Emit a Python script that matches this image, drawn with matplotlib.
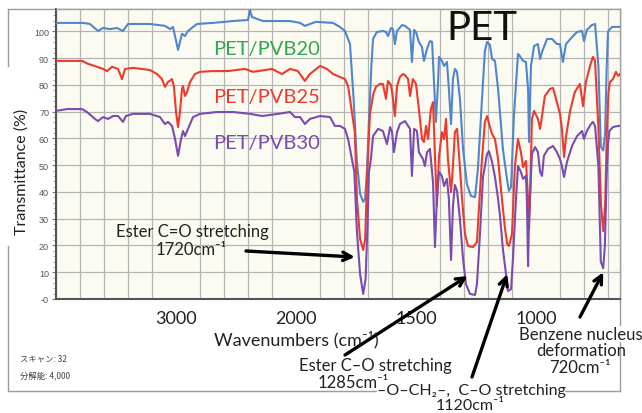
import numpy as np
import matplotlib
matplotlib.use("Agg")
import matplotlib.pyplot as plt
from matplotlib.lines import Line2D

plt.rcParams['font.family'] = ['Lato', 'DejaVu Sans']

# FT-IR spectra (wavenumber cm-1, transmittance %)
pvb20 = [(4000, 103.2), (3775, 103.2), (3717, 102.8), (3650, 100.2), (3608, 101.3), (3550, 100.9),
         (3492, 101.3), (3442, 100.2), (3400, 102.8), (3217, 102.8), (3092, 102.1), (3050, 100.9),
         (3025, 101.7), (2983, 93.1), (2967, 96.1), (2950, 99.1), (2925, 98.3), (2900, 100.2),
         (2825, 102.8), (2692, 103.2), (2525, 103.9), (2400, 104.3), (2383, 108.0), (2367, 105.4),
         (2325, 104.7), (2275, 103.9), (2108, 103.9), (2050, 103.9), (1983, 103.2), (1963, 102.1),
         (1917, 103.6), (1846, 103.2), (1817, 101.7), (1796, 100.2), (1775, 95.3), (1760, 74.8),
         (1747, 52.3), (1733, 39.3), (1720, 36.3), (1712, 37.4), (1704, 48.6), (1694, 71.0),
         (1686, 87.1), (1679, 97.2), (1663, 99.8), (1638, 100.2), (1625, 99.8), (1617, 98.3),
         (1604, 101.3), (1596, 100.9), (1588, 95.3), (1579, 100.2), (1558, 102.4), (1546, 102.1),
         (1525, 100.6), (1517, 88.6), (1508, 100.6), (1500, 99.8), (1488, 96.1), (1475, 94.2),
         (1467, 89.0), (1454, 93.5), (1442, 96.4), (1433, 96.1), (1425, 81.1), (1417, 66.2),
         (1408, 81.1), (1404, 90.5), (1392, 89.0), (1383, 87.1), (1371, 88.6), (1363, 78.5),
         (1354, 65.4), (1346, 82.2), (1338, 86.0), (1329, 84.9), (1317, 74.8), (1304, 56.1),
         (1288, 43.0), (1271, 38.5), (1254, 38.1), (1242, 48.6), (1225, 74.8), (1213, 92.7),
         (1204, 96.1), (1192, 95.0), (1183, 89.7), (1171, 89.0), (1158, 78.5), (1138, 56.1),
         (1121, 44.9), (1113, 40.4), (1104, 41.9), (1092, 68.4), (1075, 91.6), (1067, 90.8),
         (1054, 89.0), (1042, 88.6), (1033, 78.5), (1029, 58.7), (1021, 87.1), (1008, 94.6),
         (992, 95.3), (983, 89.7), (975, 92.3), (954, 97.2), (933, 97.2), (913, 95.3), (900, 95.3),
         (888, 88.6), (875, 95.3), (850, 97.9), (829, 99.8), (808, 100.2), (800, 96.4), (788, 100.6),
         (767, 102.4), (754, 102.8), (740, 87.1), (730, 57.0), (720, 55.5), (712, 62.0), (706, 85.0),
         (700, 100.0), (683, 101.7), (663, 101.7), (650, 101.7)]

pvb25 = [(4000, 89.0), (3783, 89.0), (3733, 87.9), (3658, 86.8), (3608, 86.0), (3575, 85.2),
         (3533, 86.8), (3483, 86.0), (3450, 82.2), (3425, 86.0), (3358, 86.4), (3217, 85.6),
         (3158, 84.1), (3117, 82.2), (3092, 79.3), (3067, 81.1), (3033, 82.2), (3017, 79.3),
         (3000, 69.9), (2983, 64.3), (2967, 69.9), (2950, 78.5), (2942, 79.6), (2925, 75.9),
         (2908, 77.4), (2883, 81.1), (2842, 84.1), (2800, 84.9), (2700, 85.2), (2567, 85.2),
         (2425, 86.0), (2358, 84.9), (2258, 85.6), (2200, 86.0), (2117, 84.1), (2050, 86.0),
         (1992, 85.2), (1963, 81.5), (1942, 84.1), (1900, 87.1), (1871, 86.0), (1846, 84.1),
         (1817, 83.0), (1796, 82.2), (1783, 79.6), (1775, 74.8), (1755, 62.4), (1746, 37.4),
         (1733, 22.4), (1720, 18.3), (1712, 22.4), (1702, 49.7), (1692, 69.2), (1678, 76.6),
         (1667, 79.3), (1650, 80.4), (1638, 80.4), (1625, 74.8), (1617, 81.5), (1604, 80.0),
         (1596, 74.8), (1588, 68.4), (1579, 79.6), (1567, 83.0), (1554, 84.1), (1546, 83.7),
         (1533, 82.2), (1525, 75.9), (1513, 82.2), (1500, 80.4), (1488, 71.0), (1475, 59.8),
         (1467, 58.7), (1458, 64.7), (1450, 59.8), (1438, 71.0), (1429, 73.6), (1421, 53.5),
         (1413, 34.8), (1404, 53.5), (1392, 62.4), (1383, 59.8), (1375, 67.3), (1367, 52.3),
         (1354, 40.0), (1346, 49.7), (1338, 62.4), (1329, 63.6), (1321, 54.2), (1308, 37.4),
         (1296, 24.3), (1283, 19.8), (1263, 19.4), (1246, 21.3), (1238, 33.6), (1225, 52.3),
         (1213, 66.2), (1204, 68.4), (1192, 64.3), (1183, 61.7), (1171, 59.8), (1158, 52.3),
         (1142, 37.4), (1129, 26.2), (1120, 20.5), (1113, 19.8), (1100, 24.3), (1088, 49.7),
         (1075, 59.8), (1063, 54.9), (1054, 49.3), (1042, 51.6), (1033, 37.4), (1029, 26.2),
         (1025, 37.4), (1017, 67.3), (1008, 70.3), (992, 67.3), (983, 63.6), (975, 68.4),
         (963, 75.9), (942, 78.5), (929, 78.9), (913, 73.6), (900, 69.2), (892, 63.6), (883, 53.1),
         (875, 60.6), (858, 70.3), (838, 77.4), (817, 80.4), (804, 72.1), (792, 81.1), (775, 87.1),
         (763, 90.5), (754, 89.0), (740, 63.6), (729, 35.0), (720, 25.4), (712, 35.0), (705, 62.0),
         (698, 77.4), (692, 81.1), (679, 82.2), (667, 84.9), (658, 83.4), (650, 84.1)]

pvb30 = [(4000, 70.3), (3908, 71.0), (3783, 71.0), (3742, 69.9), (3675, 67.3), (3650, 66.5),
         (3608, 68.0), (3567, 67.3), (3525, 68.4), (3483, 68.4), (3442, 66.2), (3417, 68.4),
         (3358, 69.2), (3217, 69.2), (3133, 68.0), (3092, 65.4), (3067, 66.2), (3033, 64.7),
         (3008, 59.8), (2983, 53.5), (2958, 59.8), (2942, 62.8), (2925, 60.9), (2900, 63.6),
         (2858, 68.0), (2800, 69.2), (2658, 69.9), (2525, 69.9), (2383, 69.2), (2283, 68.4),
         (2150, 69.2), (2050, 69.9), (2008, 68.0), (1983, 68.0), (1963, 65.4), (1942, 67.3),
         (1900, 68.4), (1858, 68.0), (1838, 64.7), (1817, 64.7), (1796, 63.6), (1783, 59.8),
         (1775, 56.1), (1757, 47.5), (1746, 25.0), (1733, 9.3), (1720, 1.9), (1710, 7.5),
         (1702, 28.0), (1696, 47.5), (1688, 52.3), (1679, 60.9), (1658, 63.6), (1638, 62.8),
         (1621, 57.9), (1608, 64.3), (1600, 62.4), (1592, 54.9), (1579, 62.4), (1567, 65.4),
         (1546, 66.5), (1533, 64.7), (1525, 63.6), (1517, 46.0), (1508, 63.6), (1496, 62.8),
         (1488, 54.9), (1471, 52.3), (1463, 49.7), (1454, 54.9), (1442, 56.1), (1429, 43.7),
         (1421, 19.4), (1413, 37.4), (1404, 47.5), (1392, 46.0), (1383, 42.2), (1371, 44.9),
         (1363, 37.4), (1354, 14.6), (1346, 34.8), (1338, 42.6), (1329, 40.4), (1317, 29.9),
         (1304, 15.0), (1292, 5.6), (1275, 1.9), (1254, 1.5), (1246, 5.6), (1233, 25.0),
         (1221, 45.6), (1204, 54.2), (1196, 55.3), (1183, 51.2), (1171, 45.6), (1158, 37.4),
         (1150, 31.0), (1138, 18.7), (1125, 9.3), (1117, 3.0), (1104, 3.7), (1096, 15.0),
         (1083, 38.1), (1075, 49.7), (1063, 47.5), (1054, 44.9), (1042, 46.0), (1038, 37.4),
         (1033, 12.3), (1029, 29.9), (1017, 54.2), (1004, 56.8), (992, 54.9), (983, 47.5),
         (975, 46.0), (967, 53.5), (950, 56.1), (929, 57.2), (913, 54.9), (900, 52.3), (892, 49.7),
         (883, 45.6), (871, 51.2), (850, 57.2), (829, 60.9), (808, 62.8), (800, 59.8), (788, 62.8),
         (771, 65.4), (763, 66.2), (754, 64.7), (740, 49.7), (730, 14.0), (720, 11.5), (713, 20.0),
         (706, 45.0), (700, 58.0), (694, 62.8), (679, 64.3), (658, 64.7), (650, 64.7)]

series_names = ["PET/PVB20", "PET/PVB25", "PET/PVB30"]
line_colors = ["#4f86cc", "#ee3a2e", "#7b4caf"]
label_colors = ["#2fa84f", "#ee3a2e", "#7b4caf"]

xtick_values = [3000, 2000, 1500, 1000]
ytick_values = [0, 10, 20, 30, 40, 50, 60, 70, 80, 90, 100]
ytick_labels = ["-0", "10", "20", "30", "40", "50", "60", "70", "80", "90", "100"]

# band assignments: arrow tip (wavenumber, transmittance)
band_tips = [(1755, 15.7), (1285, 8.6), (1120, 9.3), (720, 10.0)]
CM = "cm\u207b\u00b9"


# wavenumber axis: below 2000 cm-1 is drawn at twice the scale
def fwd(w):
    w = np.asarray(w, dtype=float)
    return np.where(w > 2000, 2000 + (w - 2000) / 2, w)


def inv(u):
    u = np.asarray(u, dtype=float)
    return np.where(u > 2000, 2000 + (u - 2000) * 2, u)


W, H = 642, 414
fig = plt.figure(figsize=(W / 100, H / 100), dpi=100)


def fx(px):
    return px / W


def fy(py):
    return 1 - py / H


# outer frame of the printout (left side broken by the axis title)
frame_kw = dict(transform=fig.transFigure, color="#9c9c9c", lw=1.0, zorder=0)
for xs, ys in [([8, 620], [10, 10]), ([620, 620], [10, 392]), ([8, 620], [392, 392]),
               ([8, 8], [10, 67]), ([8, 8], [247, 392])]:
    fig.add_artist(Line2D([fx(v) for v in xs], [fy(v) for v in ys], **frame_kw))

ax = fig.add_axes([fx(56), fy(300), fx(620) - fx(56), fy(10) - fy(300)])
ax.set_facecolor("#fbfbf1")
ax.set_xscale("function", functions=(fwd, inv))
ax.set_xlim(4000, 650)
ax.set_ylim(0, 108.4)

for data, c in zip([pvb20, pvb25, pvb30], line_colors):
    wn, tr = zip(*data)
    ax.plot(wn, tr, color=c, lw=1.5, zorder=3)

grid_x = list(range(4000, 2000, -200)) + list(range(2000, 649, -100))
ax.set_xticks(xtick_values)
ax.set_xticklabels([str(v) for v in xtick_values])
ax.set_xticks(grid_x, minor=True)
ax.tick_params(axis="x", which="both", length=0, pad=8, labelsize=13, labelcolor="#222222")
ax.set_yticks(ytick_values)
ax.set_yticklabels(ytick_labels, family=["Liberation Sans"])
ax.set_yticks(np.arange(0, 108, 2), minor=True)
ax.tick_params(axis="y", which="major", length=3, pad=2, labelsize=6.5, labelcolor="#555555", color="#777777")
ax.tick_params(axis="y", which="minor", length=2, color="#999999")
ax.grid(axis="x", which="minor", color="#b4b4b4", lw=0.9)
ax.grid(axis="y", which="major", color="#b4b4b4", lw=0.9)
ax.set_axisbelow(True)

for side in ["left", "bottom"]:
    ax.spines[side].set_color("#555555")
    ax.spines[side].set_linewidth(1.5)
for side in ["top", "right"]:
    ax.spines[side].set_color("#a0a0a0")
    ax.spines[side].set_linewidth(1.0)

fig.text(fx(22), fy(172), "Transmittance (%)", rotation=90, ha="center", va="center",
         fontsize=11.5, color="#222222")
fig.text(fx(296), fy(340), "Wavenumbers (" + CM + ")", ha="center", va="center",
         fontsize=13, color="#222222")

# sample labels and title
for name, c, py in zip(series_names, label_colors, [49, 97, 143]):
    fig.text(fx(213), fy(py), name, ha="left", va="center", fontsize=14.5, color=c)
fig.text(fx(482), fy(29), "PET", ha="center", va="center", fontsize=29, color="#111111")

# band annotations
txt_kw = dict(fontsize=12, color="#222222", ha="center", va="center")
low_kw = dict(txt_kw, fontsize=11.5)
white = dict(fc="white", ec="none", pad=0)
arrow_kw = dict(arrowstyle="->", lw=2.4, color="black", mutation_scale=15, shrinkA=0, shrinkB=0)
arrow_tails = [(246, 252), (345, 356), (472, 378), (580, 318)]
for (wn, tr), (tx, ty) in zip(band_tips, arrow_tails):
    ax.annotate("", xy=(wn, tr), xycoords="data", xytext=(fx(tx), fy(ty)),
                textcoords="figure fraction", arrowprops=arrow_kw, zorder=6)

fig.text(fx(192), fy(232), "Ester C=O stretching", **txt_kw)
fig.text(fx(191), fy(250), "1720" + CM, **txt_kw)

fig.text(fx(375), fy(366), "Ester C\u2013O stretching", **txt_kw)
fig.text(fx(471), fy(391), "\u2013O\u2013CH\u2082\u2013,  C\u2013O stretching", bbox=white, **low_kw)
fig.text(fx(353), fy(383), "1285" + CM, **txt_kw)
fig.text(fx(470), fy(406.5), "1120" + CM, **low_kw)

fig.text(fx(581), fy(335), "Benzene nucleus", bbox=white, **txt_kw)
fig.text(fx(581), fy(351), "deformation", **txt_kw)
fig.text(fx(580), fy(368), "720" + CM, **txt_kw)

# instrument settings
jp = ["Noto Sans CJK JP", "DejaVu Sans"]
fig.text(fx(20), fy(359), "スキャン: 32", fontsize=6, color="#444444", va="center", family=jp)
fig.text(fx(20), fy(377), "分解能: 4,000", fontsize=6, color="#444444", va="center", family=jp)

fig.savefig("out.png", dpi=100)
